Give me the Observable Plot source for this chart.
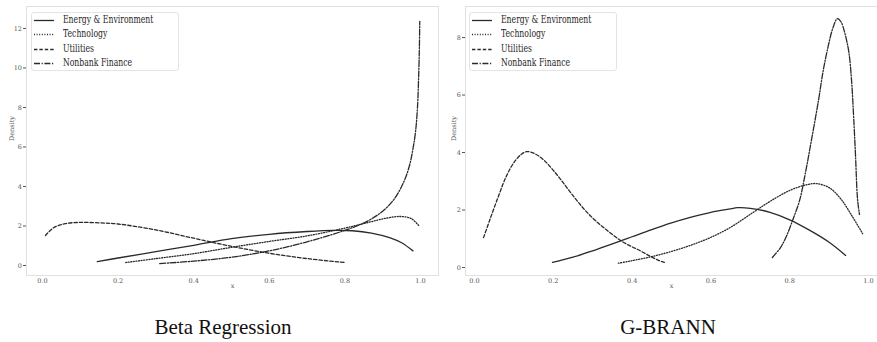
<!DOCTYPE html>
<html>
<head>
<meta charset="utf-8">
<script src="https://cdn.jsdelivr.net/npm/d3@7"></script>
<script src="https://cdn.jsdelivr.net/npm/@observablehq/plot@0.6"></script>
<style>
  body { margin: 0; background: #fff; }
  #fig { position: relative; width: 877px; height: 342px; overflow: hidden; background: #fff; }
  .panel { position: absolute; top: 0; }
  .legend {
    position: absolute; top: 12px; width: 146px; height: 57px;
    border: 1px solid #e4e4e4; border-radius: 3px; background: rgba(255,255,255,0.9);
    font-family: "DejaVu Serif", serif; font-size: 11px; color: #262626;
  }
  .legend .row { position: relative; height: 14.3px; line-height: 14.3px; white-space: nowrap; }
  .legend svg { position: absolute; left: 2px; top: 0; }
  .legend span { position: absolute; left: 31px; top: 0; transform: scaleX(0.7); transform-origin: 0 50%; }
  .title {
    position: absolute; top: 316px; font-family: "Liberation Serif", serif;
    font-size: 21px; line-height: 22px; color: #111; transform: translateX(-50%); white-space: nowrap;
  }
</style>
</head>
<body>
<div id="fig"></div>
<script>
// Series and styling
const seriesNames = ["Energy & Environment", "Technology", "Utilities", "Nonbank Finance"];
const seriesDash = ["none", "1,1.6", "3.4,2", "6,1.6,1.2,1.6"];

// Axis ticks
const xTicks = [0, 0.2, 0.4, 0.6, 0.8, 1.0];
const betaYTicks = [0, 2, 4, 6, 8, 10, 12];
const brannYTicks = [0, 2, 4, 6, 8];

// Beta Regression densities
const betaEnergyX = [0.145, 0.2, 0.3, 0.4, 0.5, 0.6, 0.7, 0.77, 0.82, 0.87, 0.92, 0.95, 0.98];
const betaEnergyY = [0.2, 0.38, 0.7, 1.02, 1.36, 1.58, 1.72, 1.78, 1.76, 1.64, 1.4, 1.15, 0.74];
const betaTechX = [0.22, 0.3, 0.4, 0.5, 0.6, 0.7, 0.79, 0.86, 0.91, 0.947, 0.975, 0.995];
const betaTechY = [0.15, 0.35, 0.6, 0.92, 1.22, 1.5, 1.85, 2.17, 2.4, 2.48, 2.38, 2.03];
const betaUtilX = [0.008, 0.03, 0.06, 0.1, 0.15, 0.2, 0.3, 0.4, 0.5, 0.6, 0.7, 0.8];
const betaUtilY = [1.52, 1.92, 2.12, 2.18, 2.16, 2.1, 1.8, 1.38, 0.97, 0.62, 0.35, 0.15];
const betaNbfX = [0.31, 0.4, 0.5, 0.6, 0.7, 0.8, 0.86, 0.9, 0.93, 0.955, 0.97, 0.98, 0.987, 0.992, 0.995, 0.997, 0.998];
const betaNbfY = [0.1, 0.22, 0.42, 0.74, 1.2, 1.78, 2.25, 2.75, 3.35, 4.2, 5.0, 5.9, 6.8, 8.0, 9.5, 11.0, 12.35];

// G-BRANN densities
const brannEnergyX = [0.198, 0.25, 0.3, 0.35, 0.4, 0.45, 0.5, 0.55, 0.6, 0.65, 0.667, 0.7, 0.75, 0.8, 0.85, 0.9, 0.942];
const brannEnergyY = [0.18, 0.36, 0.58, 0.82, 1.07, 1.32, 1.55, 1.75, 1.92, 2.04, 2.08, 2.06, 1.92, 1.66, 1.3, 0.88, 0.42];
const brannTechX = [0.365, 0.4, 0.45, 0.5, 0.55, 0.6, 0.65, 0.7, 0.75, 0.8, 0.84, 0.866, 0.9, 0.93, 0.96, 0.985];
const brannTechY = [0.15, 0.24, 0.38, 0.56, 0.78, 1.05, 1.4, 1.85, 2.3, 2.68, 2.87, 2.92, 2.78, 2.38, 1.75, 1.18];
const brannUtilX = [0.023, 0.04, 0.06, 0.08, 0.1, 0.12, 0.132, 0.15, 0.175, 0.2, 0.225, 0.25, 0.275, 0.3, 0.325, 0.35, 0.375, 0.4, 0.421, 0.445, 0.467, 0.482];
const brannUtilY = [1.04, 1.7, 2.45, 3.15, 3.65, 3.95, 4.03, 3.98, 3.75, 3.38, 2.95, 2.5, 2.08, 1.72, 1.42, 1.15, 0.9, 0.72, 0.58, 0.4, 0.25, 0.18];
const brannNbfX = [0.756, 0.777, 0.792, 0.807, 0.825, 0.84, 0.855, 0.873, 0.885, 0.898, 0.91, 0.921, 0.93, 0.94, 0.95, 0.957, 0.962, 0.967, 0.972, 0.977];
const brannNbfY = [0.35, 0.7, 1.1, 1.63, 2.33, 3.3, 4.42, 5.81, 6.85, 7.72, 8.35, 8.66, 8.55, 8.15, 7.5, 6.5, 5.3, 3.9, 2.4, 1.85];

const toRows = (xs, ys) => xs.map((x, i) => ({x, y: ys[i]}));

function densityPanel({xs, ys, left, width, marginLeft, xDomain, yDomain, yTicks, densityDx}) {
  const lines = xs.map((xv, k) => Plot.line(toRows(xv, ys[k]), {
    x: "x", y: "y", stroke: "#2a2a2a", strokeWidth: 1.3,
    strokeDasharray: seriesDash[k], curve: "catmull-rom"
  }));
  const svg = Plot.plot({
    width, height: 300,
    marginLeft, marginRight: 0, marginTop: 6, marginBottom: 25,
    x: {domain: xDomain},
    y: {domain: yDomain},
    style: {fontFamily: "DejaVu Serif, serif", fontSize: "6.5px", color: "#555", background: "transparent", overflow: "visible"},
    marks: [
      Plot.frame({stroke: "#e0e0e0"}),
      Plot.axisX({ticks: xTicks, tickSize: 0, tickPadding: 3, label: null, tickFormat: d3.format(".1f")}),
      Plot.axisY({ticks: yTicks, tickSize: 3, tickPadding: 1.5, label: null, tickFormat: d3.format("d")}),
      Plot.text(["x"], {frameAnchor: "bottom", dy: 12, fill: "#555"}),
      Plot.text(["Density"], {frameAnchor: "left", dx: densityDx, rotate: -90, fill: "#555"}),
      ...lines
    ]
  });
  const wrap = document.createElement("div");
  wrap.className = "panel";
  wrap.style.left = left + "px";
  wrap.appendChild(svg);
  return wrap;
}

function legend(left) {
  const box = document.createElement("div");
  box.className = "legend";
  box.style.left = left + "px";
  seriesNames.forEach((name, k) => {
    const row = document.createElement("div");
    row.className = "row";
    const s = d3.create("svg").attr("width", 22).attr("height", 14);
    s.append("line").attr("x1", 0).attr("x2", 20).attr("y1", 7.5).attr("y2", 7.5)
      .attr("stroke", "#2a2a2a").attr("stroke-width", 1.3)
      .attr("stroke-dasharray", seriesDash[k]);
    row.appendChild(s.node());
    const t = document.createElement("span");
    t.textContent = name;
    row.appendChild(t);
    box.appendChild(row);
  });
  return box;
}

function title(text, cx) {
  const d = document.createElement("div");
  d.className = "title";
  d.style.left = cx + "px";
  d.textContent = text;
  return d;
}

const fig = document.getElementById("fig");

fig.appendChild(densityPanel({
  xs: [betaEnergyX, betaTechX, betaUtilX, betaNbfX],
  ys: [betaEnergyY, betaTechY, betaUtilY, betaNbfY],
  left: 0, width: 438, marginLeft: 26,
  xDomain: [-0.0423, 1.0476], yDomain: [-0.506, 13.11],
  yTicks: betaYTicks, densityDx: -15
}));
fig.appendChild(densityPanel({
  xs: [brannEnergyX, brannTechX, brannUtilX, brannNbfX],
  ys: [brannEnergyY, brannTechY, brannUtilY, brannNbfY],
  left: 438, width: 439, marginLeft: 27,
  xDomain: [-0.0228, 1.0228], yDomain: [-0.278, 9.08],
  yTicks: brannYTicks, densityDx: -12
}));
fig.appendChild(legend(31));
fig.appendChild(legend(469));
fig.appendChild(title("Beta Regression", 223));
fig.appendChild(title("G-BRANN", 668));
</script>
</body>
</html>
